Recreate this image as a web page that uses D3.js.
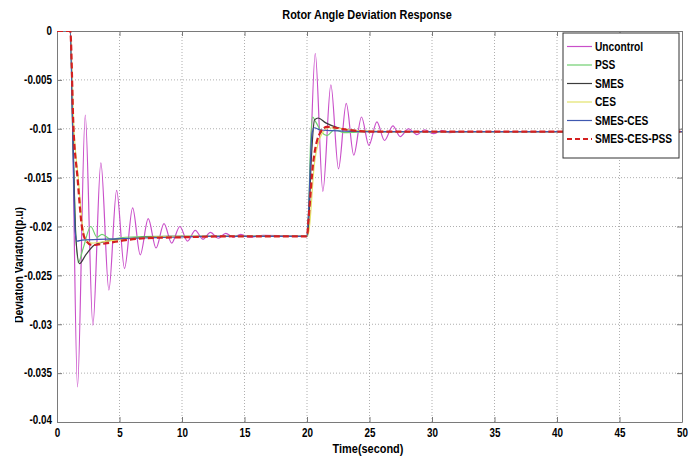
<!DOCTYPE html>
<html>
<head>
<meta charset="utf-8">
<script src="https://cdn.jsdelivr.net/npm/d3@7"></script>
<style>
  body { margin: 0; background: #fff; }
  svg text { font-family: "Liberation Sans", Arial, sans-serif; font-weight: bold; }
</style>
</head>
<body>
<div id="chart"></div>
<script>
/// DATA (time in s, deviation in p.u.)

const xTicks = [0, 5, 10, 15, 20, 25, 30, 35, 40, 45, 50]
const yTicks = [0, -0.005, -0.01, -0.015, -0.02, -0.025, -0.03, -0.035, -0.04]

const seriesNames = ["Uncontrol", "PSS", "SMES", "CES", "SMES-CES", "SMES-CES-PSS"]

const uncontrol = [
  [0, 0], [1.06, 0], [1.64, -0.0364], [2.26, -0.0086], [2.87, -0.0301], [3.51, -0.0135],
  [4.15, -0.0265], [4.77, -0.0163], [5.4, -0.0243], [6.05, -0.0181], [6.66, -0.0229],
  [7.3, -0.0192], [7.92, -0.0222], [8.56, -0.0197], [9.17, -0.0217], [9.83, -0.02],
  [10.44, -0.0215], [11.06, -0.0204], [11.67, -0.0213], [12.28, -0.0206], [12.9, -0.0212],
  [13.5, -0.0207], [14.1, -0.0211], [14.7, -0.0208], [15.4, -0.0211], [16.5, -0.0209],
  [20, -0.021], [20.66, -0.0023], [21.27, -0.0164], [21.91, -0.0055], [22.52, -0.0141],
  [23.14, -0.0074], [23.74, -0.0127], [24.36, -0.0088], [24.95, -0.0117], [25.59, -0.0093],
  [26.2, -0.0112], [26.87, -0.0097], [27.46, -0.0108], [28.12, -0.01], [28.79, -0.0106],
  [29.4, -0.0101], [30.1, -0.0105], [30.8, -0.0102], [31.4, -0.0104], [32.5, -0.0103],
  [50, -0.0103],
]

const pss = [
  [0, 0], [1.06, 0], [1.25, -0.01], [1.45, -0.019], [1.7, -0.0237], [2.1, -0.0222],
  [2.7, -0.02], [3.2, -0.0211], [3.6, -0.0208], [4.3, -0.0213], [5.5, -0.0211], [8, -0.021],
  [20, -0.021], [20.1, -0.0195], [20.3, -0.011], [20.45, -0.0088], [20.7, -0.0093],
  [21.2, -0.0104], [21.6, -0.0107], [22.2, -0.0101], [23, -0.0104], [25, -0.0103], [50, -0.0103],
]

const smes = [
  [0, 0], [1.06, 0], [1.3, -0.012], [1.5, -0.021], [1.8, -0.0238], [2.3, -0.0229],
  [3, -0.0219], [4, -0.0215], [6, -0.0212], [9, -0.021],
  [20, -0.021], [20.1, -0.0205], [20.35, -0.013], [20.6, -0.0091], [20.9, -0.0089],
  [21.5, -0.0094], [22.5, -0.0099], [24, -0.0102], [26, -0.0103], [50, -0.0103],
]

const ces = [
  [0, 0], [1.06, 0], [1.35, -0.01], [1.7, -0.015], [2.05, -0.02], [2.4, -0.0215],
  [2.8, -0.0217], [4, -0.0215], [6, -0.0212], [10, -0.021],
  [20, -0.021], [20.15, -0.0205], [20.6, -0.0135], [21.2, -0.0105], [21.8, -0.0099],
  [24, -0.0102], [27, -0.0103], [50, -0.0103],
]

const smesCes = [
  [0, 0], [1.06, 0], [1.25, -0.01], [1.45, -0.0205], [1.6, -0.0215], [2, -0.0214],
  [4, -0.0213], [6, -0.0212], [9, -0.0211], [12, -0.021],
  [20, -0.021], [20.1, -0.019], [20.4, -0.0105], [20.6, -0.0099], [21, -0.0101],
  [22, -0.0102], [25, -0.0103], [50, -0.0103],
]

const smesCesPss = [
  [0, 0], [1.06, 0], [1.32, -0.01], [1.64, -0.015], [1.99, -0.02], [2.3, -0.0214],
  [2.8, -0.0219], [4, -0.0217], [5.5, -0.0214], [7, -0.0212], [10, -0.0211], [14, -0.021],
  [20, -0.021], [20.12, -0.0193], [20.52, -0.0132], [21.11, -0.0103], [21.6, -0.0098],
  [23.2, -0.0101], [25, -0.0103], [50, -0.0103],
]

const seriesData = [uncontrol, pss, smes, ces, smesCes, smesCesPss]
const seriesColors = ["#c94fc9", "#6fcf6f", "#3c3c3c", "#e3e36a", "#3f58b0", "#d42020"]

/// LAYOUT

const width = 697
const height = 459
const margins = { top: 31, right: 15, bottom: 37, left: 57 }

// squeeze text horizontally, the original uses a narrow bold face
const condense = (sel, f) =>
  sel.each(function () {
    const len = this.getComputedTextLength()
    d3.select(this).attr("textLength", len * f).attr("lengthAdjust", "spacingAndGlyphs")
  })

const xScale = d3
  .scaleLinear()
  .domain([0, 50])
  .range([margins.left, width - margins.right])

const yScale = d3
  .scaleLinear()
  .domain([-0.04, 0])
  .range([height - margins.bottom, margins.top])

const svg = d3
  .select("#chart")
  .append("svg")
  .attr("width", width)
  .attr("height", height)

const defs = svg.append("defs")

defs.append("clipPath")
  .attr("id", "plot-clip")
  .append("rect")
  .attr("x", margins.left)
  .attr("y", margins.top)
  .attr("width", width - margins.left - margins.right)
  .attr("height", height - margins.top - margins.bottom)

defs.append("clipPath")
  .attr("id", "ylabel-clip")
  .append("rect")
  .attr("x", 15)
  .attr("y", 0)
  .attr("width", 40)
  .attr("height", height)

// GRID

const grid = svg.append("g").attr("class", "grid")

grid.selectAll(".vgrid")
  .data(xTicks.slice(1, -1))
  .join("line")
  .attr("x1", (d) => xScale(d))
  .attr("x2", (d) => xScale(d))
  .attr("y1", margins.top)
  .attr("y2", height - margins.bottom)
  .attr("stroke", "#9a9a9a")
  .attr("stroke-width", 0.8)
  .attr("stroke-dasharray", "1,2")

grid.selectAll(".hgrid")
  .data(yTicks.slice(1, -1))
  .join("line")
  .attr("x1", margins.left)
  .attr("x2", width - margins.right)
  .attr("y1", (d) => yScale(d))
  .attr("y2", (d) => yScale(d))
  .attr("stroke", "#9a9a9a")
  .attr("stroke-width", 0.8)
  .attr("stroke-dasharray", "1,2")

// AXES

const yFormat = (d) => (d === 0 ? "0" : String(+d.toFixed(3)))

const xAxis = svg
  .append("g")
  .attr("transform", `translate(0,${height - margins.bottom})`)
  .call(d3.axisBottom(xScale).tickValues(xTicks).tickSizeInner(-5).tickSizeOuter(0).tickPadding(6))

const xAxisTop = svg
  .append("g")
  .attr("transform", `translate(0,${margins.top})`)
  .call(d3.axisTop(xScale).tickValues(xTicks).tickSizeInner(-5).tickSizeOuter(0).tickFormat(""))

const yAxis = svg
  .append("g")
  .attr("transform", `translate(${margins.left},0)`)
  .call(d3.axisLeft(yScale).tickValues(yTicks).tickFormat(yFormat).tickSizeInner(-5).tickSizeOuter(0).tickPadding(5))

const yAxisRight = svg
  .append("g")
  .attr("transform", `translate(${width - margins.right},0)`)
  .call(d3.axisRight(yScale).tickValues(yTicks).tickSizeInner(-5).tickSizeOuter(0).tickFormat(""))

;[xAxis, xAxisTop, yAxis, yAxisRight].forEach((ax) => {
  ax.select(".domain").attr("stroke", "#7a7a7a")
  ax.selectAll(".tick line").attr("stroke", "#7a7a7a")
  ax.selectAll(".tick text")
    .attr("fill", "#000")
    .style("font-size", "12px")
    .call(condense, 0.82)
})

// bottom y label sits a touch higher so it clears the x "0"
yAxis.selectAll(".tick text").filter((d) => d === -0.04).attr("dy", "0.1em")

// LINES

const lineGenerator = d3
  .line()
  .x((d) => xScale(d[0]))
  .y((d) => yScale(d[1]))
  .curve(d3.curveMonotoneX)

svg.append("g")
  .attr("clip-path", "url(#plot-clip)")
  .selectAll("path")
  .data(seriesData)
  .join("path")
  .attr("d", lineGenerator)
  .attr("fill", "none")
  .attr("stroke", (d, i) => seriesColors[i])
  .attr("stroke-width", (d, i) => (i === 5 ? 2.2 : 1.2))
  .attr("stroke-dasharray", (d, i) => (i === 5 ? "6,3" : null))

// TITLES

svg.append("text")
  .attr("x", 367)
  .attr("y", 19)
  .attr("text-anchor", "middle")
  .style("font-size", "13px")
  .text("Rotor Angle Deviation Response")
  .call(condense, 0.84)

svg.append("text")
  .attr("x", 368)
  .attr("y", 453)
  .attr("text-anchor", "middle")
  .style("font-size", "13px")
  .text("Time(second)")
  .call(condense, 0.84)

svg.append("g")
  .attr("clip-path", "url(#ylabel-clip)")
  .append("text")
  .attr("transform", "translate(23,265) rotate(-90)")
  .attr("text-anchor", "middle")
  .style("font-size", "13px")
  .text("Deviation Variation(p.u)")
  .call(condense, 0.8)

// LEGEND

const legend = svg.append("g").attr("class", "legend")

legend.append("rect")
  .attr("x", 563)
  .attr("y", 33)
  .attr("width", 116)
  .attr("height", 125)
  .attr("fill", "#fff")
  .attr("stroke", "#333")
  .attr("stroke-width", 1)

const legendRows = legend
  .selectAll(".legend-row")
  .data(seriesNames)
  .join("g")
  .attr("transform", (d, i) => `translate(0,${46.5 + i * 18.5})`)

legendRows.append("line")
  .attr("x1", 567)
  .attr("x2", 592)
  .attr("stroke", (d, i) => seriesColors[i])
  .attr("stroke-width", (d, i) => (i === 5 ? 2.2 : 1.2))
  .attr("stroke-dasharray", (d, i) => (i === 5 ? "5,3" : null))

legendRows.append("text")
  .attr("x", 595)
  .attr("dy", "0.35em")
  .style("font-size", "12px")
  .text((d) => d)
  .call(condense, 0.85)
</script>
</body>
</html>
